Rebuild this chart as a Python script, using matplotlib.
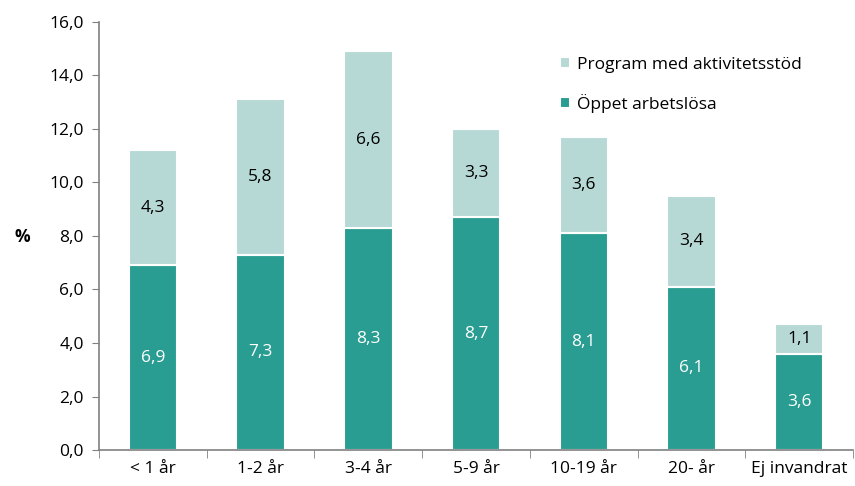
import numpy as np
import matplotlib.pyplot as plt

categories = ['< 1 år', '1-2 år', '3-4 år', '5-9 år', '10-19 år', '20- år', 'Ej invandrat']
oppet = [6.9, 7.3, 8.3, 8.7, 8.1, 6.1, 3.6]
program = [4.3, 5.8, 6.6, 3.3, 3.6, 3.4, 1.1]

dark = '#2a9d92'
light = '#b6d9d6'

plt.rcParams['font.family'] = ['Open Sans', 'DejaVu Sans']

fig = plt.figure(figsize=(8.55, 4.86), dpi=100)
ax = fig.add_axes([0.1158, 0.074, 0.882, 0.881])

x = np.arange(len(categories))
w = 0.45
b1 = ax.bar(x, oppet, w, color=dark, edgecolor='white', linewidth=1.5, label='Öppet arbetslösa')
b2 = ax.bar(x, program, w, bottom=oppet, color=light, edgecolor='white', linewidth=1.5,
            label='Program med aktivitetsstöd')

# value labels inside the segments
for i in range(len(categories)):
    ax.text(x[i], oppet[i] / 2, f'{oppet[i]:.1f}'.replace('.', ','), ha='center', va='center',
            color='white', fontsize=12.5)
    ax.text(x[i], oppet[i] + program[i] / 2, f'{program[i]:.1f}'.replace('.', ','), ha='center',
            va='center', color='black', fontsize=12.5)

ax.set_xlim(-0.5, len(categories) - 0.5)
ax.set_ylim(0, 16)
ax.set_yticks(np.arange(0, 17, 2))
ax.set_yticklabels([f'{v:.1f}'.replace('.', ',') for v in np.arange(0, 17, 2)], fontsize=12.5)
ax.set_xticks(x)
ax.set_xticklabels(categories, fontsize=12.5)
ax.tick_params(axis='x', length=0, pad=8)
ax.set_xticks(np.arange(-0.5, len(categories), 1), minor=True)
ax.tick_params(axis='x', which='minor', length=6, color='#808080')
ax.tick_params(axis='y', length=5, color='#808080', pad=6)

for s in ['top', 'right']:
    ax.spines[s].set_visible(False)
for s in ['left', 'bottom']:
    ax.spines[s].set_color('#808080')
    ax.spines[s].set_linewidth(1.2)

fig.text(0.026, 0.512, '%', fontsize=12.5, fontweight='bold', ha='center', va='center')

ax.legend(handles=[b2, b1], loc='upper left', bbox_to_anchor=(0.59, 0.955), frameon=False,
          fontsize=12.5, handlelength=0.6, handleheight=0.6, labelspacing=1.2, handletextpad=0.4)

fig.savefig('out.png', dpi=100)
